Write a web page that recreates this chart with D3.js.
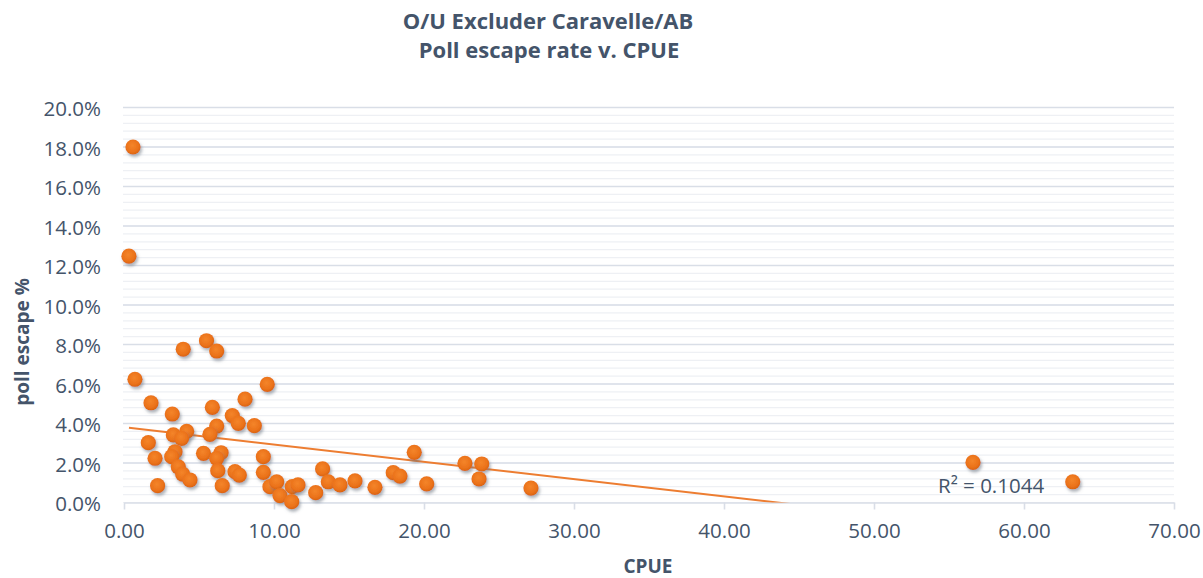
<!DOCTYPE html>
<html>
<head>
<meta charset="utf-8">
<script src="https://cdn.jsdelivr.net/npm/d3@7"></script>
<style>
  html, body { margin: 0; padding: 0; background: #fff; }
  svg { display: block; font-family: "Open Sans", "Noto Sans", sans-serif; }
</style>
</head>
<body>
<svg id="chart" width="1203" height="578"></svg>
<script>
// ---- data ----
const titleLines = ["O/U Excluder Caravelle/AB", "Poll escape rate v. CPUE"];
const xAxisTitle = "CPUE";
const yAxisTitle = "poll escape %";
const xTicks = [0, 10, 20, 30, 40, 50, 60, 70];
const yTicks = [0, 0.02, 0.04, 0.06, 0.08, 0.10, 0.12, 0.14, 0.16, 0.18, 0.20];
const cpue = [0.6, 0.33, 0.73, 3.95, 5.5, 6.18, 1.8, 3.22, 3.29, 4.18, 3.84, 1.62, 2.07, 3.4, 3.18, 3.62, 3.91, 4.4, 2.24, 5.3,
  9.55, 8.07, 5.89, 7.22, 7.62, 8.69, 6.18, 5.73, 6.47, 6.18, 6.25, 7.4, 7.69, 6.55, 9.29, 9.29, 9.73, 10.18, 10.4, 11.22,
  11.6, 11.18, 13.24, 13.62, 14.4, 15.4, 12.78, 16.73, 17.95, 18.4, 19.35, 22.73, 23.85, 23.67, 20.18, 27.13, 56.6, 63.25];
const escapeRate = [0.180, 0.1247, 0.0624, 0.0776, 0.0819, 0.0767, 0.0505, 0.0448, 0.0342, 0.036, 0.0325, 0.0303, 0.0224, 0.0257, 0.0232, 0.0181, 0.0144, 0.0114, 0.0085, 0.0249,
  0.0598, 0.0523, 0.0482, 0.044, 0.0401, 0.0389, 0.0387, 0.0345, 0.0252, 0.0224, 0.0161, 0.0156, 0.0139, 0.0085, 0.0232, 0.0153, 0.008, 0.0105, 0.0035, 0.008,
  0.0089, 0.0004, 0.017, 0.0105, 0.0089, 0.0109, 0.005, 0.0077, 0.0151, 0.0134, 0.0254, 0.0198, 0.0195, 0.0119, 0.0094, 0.0073, 0.0203, 0.0105];
const trendIntercept = 0.0381;
const trendSlope = -0.000875;
const rSquaredLabel = "R² = 0.1044";

// ---- layout ----
const svg = d3.select("#chart");
const pL = 124, pR = 1174, pT = 107.5, pB = 502.5;
const x = d3.scaleLinear().domain([0, 70]).range([pL, pR]);
const y = d3.scaleLinear().domain([0, 0.20]).range([pB, pT]);
const textColor = "#44546A";

const defs = svg.append("defs");
const grad = defs.append("radialGradient").attr("id", "dotGrad")
  .attr("cx", "45%").attr("cy", "40%").attr("r", "60%");
grad.append("stop").attr("offset", "0%").attr("stop-color", "#F4852A");
grad.append("stop").attr("offset", "70%").attr("stop-color", "#EB721A");
grad.append("stop").attr("offset", "100%").attr("stop-color", "#D9640E");
const f = defs.append("filter").attr("id", "shadow").attr("x", "-50%").attr("y", "-50%").attr("width", "200%").attr("height", "200%");
f.append("feDropShadow").attr("dx", 1.5).attr("dy", 2.5).attr("stdDeviation", 1.8)
  .attr("flood-color", "#6b7280").attr("flood-opacity", 0.55);
defs.append("clipPath").attr("id", "plotClip").append("rect")
  .attr("x", pL).attr("y", pT - 10).attr("width", pR - pL).attr("height", pB - pT + 10);

// minor gridlines
const minorTicks = d3.range(0, 0.2001, 0.004);
svg.append("g").selectAll("line").data(minorTicks).join("line")
  .attr("x1", pL - 1).attr("x2", pR)
  .attr("y1", d => y(d)).attr("y2", d => y(d))
  .attr("stroke", "#EEF0F4").attr("stroke-width", 1.2);
// major gridlines
svg.append("g").selectAll("line").data(yTicks.filter(d => d > 0)).join("line")
  .attr("x1", pL - 1).attr("x2", pR)
  .attr("y1", d => y(d)).attr("y2", d => y(d))
  .attr("stroke", "#D9DEE7").attr("stroke-width", 1.6);

// x axis
const xAxis = d3.axisBottom(x).tickValues(xTicks).tickFormat(d3.format(".2f")).tickSize(7).tickSizeOuter(0).tickPadding(14);
const gx = svg.append("g").attr("transform", `translate(0,${pB})`).call(xAxis);
gx.select(".domain").attr("stroke", "#D9DEE7").attr("stroke-width", 1.6);
gx.selectAll(".tick line").attr("stroke", "#D9DEE7").attr("stroke-width", 1.6);
gx.selectAll("text").attr("fill", textColor).attr("font-size", 20.5).attr("font-family", "Open Sans");

// y axis
const yAxis = d3.axisLeft(y).tickValues(yTicks).tickFormat(d3.format(".1%")).tickSize(0).tickPadding(0);
const gy = svg.append("g").attr("transform", `translate(${pL - 23},0)`).call(yAxis);
gy.select(".domain").remove();
gy.selectAll("text").attr("fill", textColor).attr("font-size", 20.5).attr("font-family", "Open Sans").attr("dy", "0.4em");

// trendline
const xmin = d3.min(cpue), xmax = d3.max(cpue);
svg.append("line").attr("clip-path", "url(#plotClip)")
  .attr("x1", x(xmin)).attr("y1", y(trendIntercept + trendSlope * xmin))
  .attr("x2", x(xmax)).attr("y2", y(trendIntercept + trendSlope * xmax))
  .attr("stroke", "#ED7D31").attr("stroke-width", 2);

// points
const pts = cpue.map((c, i) => ({ c, v: escapeRate[i] }));
svg.append("g").selectAll("circle").data(pts).join("circle")
  .attr("cx", d => x(d.c)).attr("cy", d => y(d.v)).attr("r", 7.6)
  .attr("fill", "url(#dotGrad)").attr("filter", "url(#shadow)");

// R² label
svg.append("text").attr("x", 938).attr("y", 493).attr("fill", textColor)
  .attr("font-size", 20.5).text(rSquaredLabel);

// titles
svg.append("text").attr("x", 548).attr("y", 29).attr("text-anchor", "middle")
  .attr("fill", textColor).attr("font-size", 22).attr("font-weight", "bold").text(titleLines[0]);
svg.append("text").attr("x", 549).attr("y", 58).attr("text-anchor", "middle")
  .attr("fill", textColor).attr("font-size", 22).attr("font-weight", "bold").text(titleLines[1]);
svg.append("text").attr("x", 648).attr("y", 573).attr("text-anchor", "middle")
  .attr("fill", textColor).attr("font-size", 19).attr("font-weight", "bold").text(xAxisTitle);
svg.append("text").attr("transform", "translate(29,342) rotate(-90)").attr("text-anchor", "middle")
  .attr("fill", textColor).attr("font-size", 19).attr("font-weight", "bold").text(yAxisTitle);
</script>
</body>
</html>
